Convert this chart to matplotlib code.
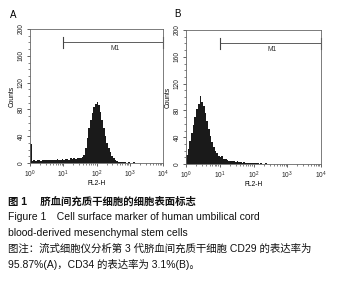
import numpy as np
import matplotlib
matplotlib.use('Agg')
import matplotlib.pyplot as plt
from matplotlib.ticker import LogLocator, NullFormatter, FixedLocator, MultipleLocator

plt.rcParams['font.family'] = ['Liberation Sans', 'Noto Sans CJK SC']
plt.rcParams['mathtext.fontset'] = 'custom'
plt.rcParams['mathtext.rm'] = 'Liberation Sans'

# log10 channel bins (FL2-H), 0.05 decade wide
log_step = 0.05
n_bins = 80

# panel A: CD29 counts per bin
counts_a = [28, 3, 4, 3, 5, 4, 3, 4, 5, 4,
            4, 5, 4, 5, 5, 4, 6, 5, 5, 6,
            5, 6, 6, 5, 7, 6, 7, 6, 8, 7,
            8, 9, 12, 22, 38, 52, 64, 74, 84, 88,
            91, 86, 76, 64, 52, 40, 30, 22, 16, 11,
            8, 5, 3, 2, 2, 1, 1, 1, 0, 1,
            0, 0, 1, 0, 0, 0, 0, 0, 0, 0,
            0, 0, 0, 0, 0, 0, 0, 0, 0, 0]

# panel B: CD34 counts per bin
counts_b = [13, 22, 34, 46, 58, 70, 82, 90, 101, 92,
            86, 76, 64, 52, 42, 33, 26, 20, 16, 12,
            10, 12, 8, 7, 6, 5, 5, 4, 4, 3,
            4, 3, 3, 2, 3, 2, 2, 2, 1, 2,
            1, 1, 1, 0, 1, 0, 0, 1, 0, 0,
            0, 0, 0, 0, 0, 0, 0, 0, 0, 0,
            0, 0, 0, 0, 0, 0, 0, 0, 0, 0,
            0, 0, 0, 0, 0, 0, 0, 0, 0, 0]

y_ticks = [0, 40, 80, 120, 160, 200]
x_ticks = [1, 10, 100, 1000, 10000]
x_labels = ['$10^0$', '$10^1$', '$10^2$', '$10^3$', '$10^4$']
marker_range = (10, 10000)
marker_y = 180

W, H = 343, 284
fig = plt.figure(figsize=(W / 100, H / 100), dpi=100)
fig.patch.set_facecolor('white')

edges = 10 ** (np.arange(n_bins + 1) * log_step)


def panel(rect, counts, letter, letter_xy):
    l, t, w, h = rect
    ax = fig.add_axes([l / W, 1 - (t + h) / H, w / W, h / H])
    ax.stairs(counts, edges, fill=True, color='#1a1a1a', lw=0)
    ax.set_xscale('log')
    ax.set_xlim(1, 10000)
    ax.set_ylim(0, 200)
    ax.xaxis.set_major_locator(FixedLocator(x_ticks))
    ax.set_xticklabels(x_labels)
    ax.xaxis.set_minor_locator(LogLocator(base=10, subs=np.arange(2, 10), numticks=20))
    ax.xaxis.set_minor_formatter(NullFormatter())
    ax.set_yticks(y_ticks)
    ax.yaxis.set_minor_locator(MultipleLocator(10))
    for lab in ax.get_yticklabels():
        lab.set_rotation(90)
        lab.set_va('center')
    ax.tick_params(which='major', length=2.5, width=0.5, labelsize=4.8, pad=1.5, colors='#222')
    ax.tick_params(which='minor', length=1.5, width=0.4, colors='#222')
    for s in ax.spines.values():
        s.set_color('#666')
        s.set_linewidth(0.6)
    ax.set_xlabel('FL2-H', fontsize=4.8, labelpad=0)
    ax.set_ylabel('Counts', fontsize=4.8, labelpad=1)
    # M1 marker gate
    ax.plot(marker_range, [marker_y, marker_y], color='#444', lw=0.6, clip_on=False)
    for xv in marker_range:
        ax.plot([xv, xv], [marker_y - 8, marker_y + 8], color='#444', lw=0.8, clip_on=False)
    ax.text(10 ** 2.55, marker_y - 4, 'M1', fontsize=4.8, ha='center', va='top', color='#333')
    fig.text(letter_xy[0] / W, 1 - letter_xy[1] / H, letter, fontsize=7, ha='left', va='center')
    return ax


panel((30, 29, 133, 134), counts_a, 'A', (10, 15))
panel((186, 30, 135, 134), counts_b, 'B', (174, 14))

caption = [
    ('图 1\u3000 脐血间充质干细胞的细胞表面标志', 202, 'bold'),
    ('Figure 1\u2003Cell surface marker of human umbilical cord', 217, 'normal'),
    ('blood-derived mesenchymal stem cells', 233, 'normal'),
    ('图注：流式细胞仪分析第 3 代脐血间充质干细胞 CD29 的表达率为', 249, 'normal'),
    ('95.87%(A)，CD34 的表达率为 3.1%(B)。', 265, 'normal'),
]
for txt, y, wt in caption:
    fig.text(8 / W, 1 - y / H, txt, fontsize=7.5, ha='left', va='center',
             fontweight=wt, color='#111')

fig.savefig('out.png', dpi=100)
